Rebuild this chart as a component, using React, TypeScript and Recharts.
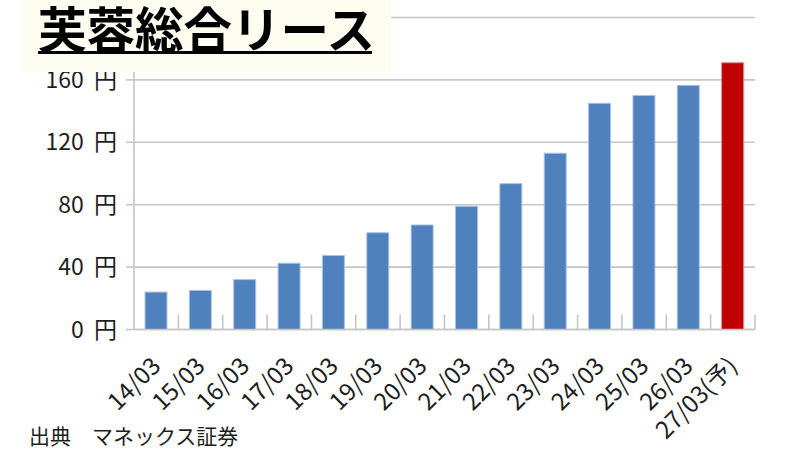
import React from 'react';
import { BarChart, Bar, XAxis, YAxis, CartesianGrid, Cell } from 'recharts';

const categories = ['14/03', '15/03', '16/03', '17/03', '18/03', '19/03', '20/03', '21/03', '22/03', '23/03', '24/03', '25/03', '26/03', '27/03(予)'];
const dividends = [24, 25, 32, 42.5, 47.5, 62, 67, 79, 93.5, 113, 145, 150, 156.5, 171];
const forecastFlags = [false, false, false, false, false, false, false, false, false, false, false, false, false, true];
const yTicks = [0, 40, 80, 120, 160, 200];

const titleText = '芙蓉総合リース';
const sourceText = '出典　マネックス証券';

const data = categories.map((c, i) => ({ name: c, value: dividends[i], forecast: forecastFlags[i] }));

const W = 800;
const H = 450;
const M_LEFT = 0;
const Y_W = 134;
const M_RIGHT = 45;
const M_TOP = 17.5;
const X_H = 120.5;
const BAND = (W - M_LEFT - Y_W - M_RIGHT) / categories.length;
const GRID = '#c6c6c6';
const FONT = "'Noto Sans CJK JP', 'Noto Sans', sans-serif";
const TEXT = '#1e1e1e';

const XTick = (props: any) => {
  const { x, y, payload } = props;
  const tx = x + 6;
  const ty = y + 38;
  return (
    <g>
      <line x1={x + BAND / 2} x2={x + BAND / 2} y1={y - 15} y2={y} stroke={GRID} strokeWidth={1.6} />
      <text
        x={tx}
        y={ty}
        textAnchor="end"
        fontSize={24}
        fill={TEXT}
        fontFamily={FONT}
        transform={`rotate(-45, ${tx}, ${ty})`}
      >
        {payload.value}
      </text>
    </g>
  );
};

export default function App() {
  return (
    <div style={{ position: 'absolute', left: 0, top: 0, width: W, height: H, background: '#ffffff', overflow: 'hidden' }}>
      <BarChart width={W} height={H} data={data} margin={{ top: M_TOP, right: M_RIGHT, bottom: 0, left: M_LEFT }}>
        <CartesianGrid horizontal={true} vertical={false} stroke={GRID} strokeWidth={1.6} />
        <XAxis
          dataKey="name"
          interval={0}
          height={X_H}
          tickLine={false}
          tickSize={0}
          tickMargin={0}
          axisLine={{ stroke: GRID, strokeWidth: 1.6 }}
          tick={<XTick />}
        />
        <YAxis
          width={Y_W}
          domain={[0, 200]}
          ticks={yTicks}
          interval={0}
          tickSize={8}
          tickMargin={9}
          tickLine={{ stroke: GRID, strokeWidth: 1.6 }}
          axisLine={{ stroke: GRID, strokeWidth: 1.6 }}
          tick={{ fontSize: 23, fill: TEXT, fontFamily: FONT }}
          tickFormatter={(v: number) => (v === 200 ? '' : `${v}\u00a0\u00a0円`)}
        />
        <Bar dataKey="value" barSize={22} isAnimationActive={false}>
          {data.map((d, i) => (
            <Cell
              key={i}
              fill={d.forecast ? '#c00000' : '#4f81bd'}
              stroke={d.forecast ? '#e08a8a' : '#a9c3e3'}
              strokeWidth={1}
            />
          ))}
        </Bar>
      </BarChart>
      <div style={{ position: 'absolute', left: 20, top: 0, width: 371, height: 72, background: '#fdfdf1' }}>
        <div
          style={{
            position: 'absolute',
            left: 18,
            top: 2.7,
            height: 48,
            lineHeight: '48px',
            fontSize: 48.5,
            fontWeight: 700,
            fontFamily: FONT,
            color: '#000',
            whiteSpace: 'nowrap',
          }}
        >
          {titleText}
        </div>
        <div style={{ position: 'absolute', left: 18, top: 50.5, width: 334, height: 3, background: '#000' }} />
      </div>
      <svg width={300} height={40} style={{ position: 'absolute', left: 0, top: 410 }}>
        <text x={29} y={33.5} fontSize={21} fill={TEXT} fontFamily={FONT}>
          {sourceText}
        </text>
      </svg>
    </div>
  );
}
